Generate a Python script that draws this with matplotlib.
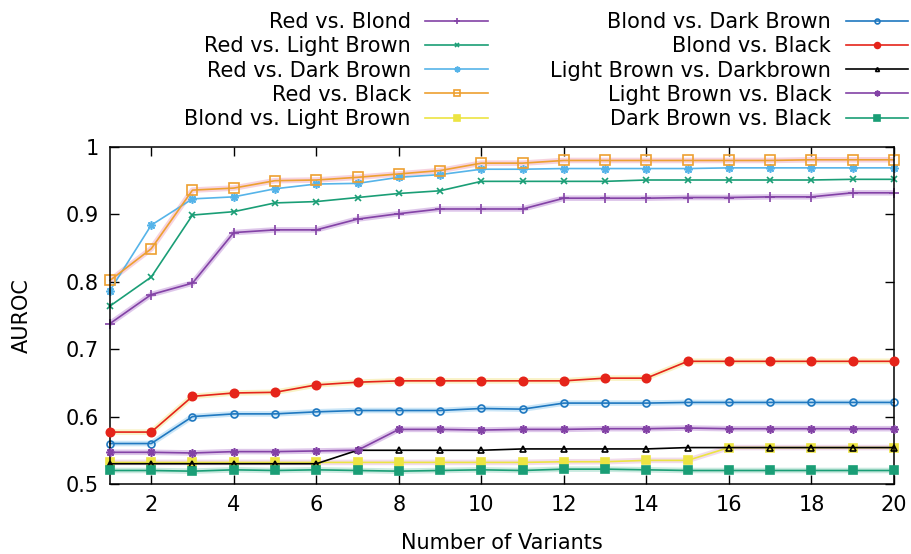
import numpy as np
import matplotlib.pyplot as plt
from matplotlib.ticker import FuncFormatter

variants = np.arange(1, 21)

red_blond = [0.738, 0.781, 0.798, 0.873, 0.877, 0.877, 0.893, 0.901, 0.908, 0.908,
             0.908, 0.924, 0.924, 0.924, 0.925, 0.925, 0.926, 0.926, 0.932, 0.932]
red_lightbrown = [0.764, 0.807, 0.899, 0.904, 0.917, 0.919, 0.925, 0.931, 0.935, 0.949,
                  0.949, 0.949, 0.949, 0.951, 0.951, 0.951, 0.951, 0.951, 0.952, 0.952]
red_darkbrown = [0.787, 0.884, 0.923, 0.926, 0.938, 0.945, 0.946, 0.955, 0.959, 0.967,
                 0.967, 0.968, 0.968, 0.968, 0.968, 0.969, 0.969, 0.969, 0.969, 0.969]
red_black = [0.802, 0.849, 0.936, 0.939, 0.950, 0.951, 0.955, 0.960, 0.965, 0.976,
             0.976, 0.980, 0.980, 0.980, 0.980, 0.980, 0.980, 0.981, 0.981, 0.981]
blond_lightbrown = [0.532, 0.532, 0.532, 0.532, 0.532, 0.532, 0.532, 0.532, 0.532, 0.532,
                    0.532, 0.533, 0.533, 0.535, 0.535, 0.554, 0.554, 0.554, 0.554, 0.554]
blond_darkbrown = [0.560, 0.560, 0.600, 0.604, 0.604, 0.607, 0.609, 0.609, 0.609, 0.612,
                   0.611, 0.620, 0.620, 0.620, 0.621, 0.621, 0.621, 0.621, 0.621, 0.621]
blond_black = [0.577, 0.577, 0.630, 0.635, 0.636, 0.647, 0.651, 0.653, 0.653, 0.653,
               0.653, 0.653, 0.657, 0.657, 0.682, 0.682, 0.682, 0.682, 0.682, 0.682]
lightbrown_darkbrown = [0.530, 0.530, 0.530, 0.530, 0.530, 0.530, 0.550, 0.550, 0.550, 0.550,
                        0.552, 0.552, 0.552, 0.552, 0.554, 0.554, 0.554, 0.554, 0.554, 0.554]
lightbrown_black = [0.547, 0.547, 0.546, 0.548, 0.548, 0.549, 0.550, 0.581, 0.581, 0.580,
                    0.581, 0.581, 0.582, 0.582, 0.583, 0.582, 0.582, 0.582, 0.582, 0.582]
darkbrown_black = [0.520, 0.520, 0.519, 0.521, 0.520, 0.521, 0.520, 0.519, 0.520, 0.521,
                   0.520, 0.522, 0.522, 0.521, 0.520, 0.520, 0.520, 0.520, 0.520, 0.520]

labels = ["Red vs. Blond", "Red vs. Light Brown", "Red vs. Dark Brown", "Red vs. Black",
          "Blond vs. Light Brown", "Blond vs. Dark Brown", "Blond vs. Black",
          "Light Brown vs. Darkbrown", "Light Brown vs. Black", "Dark Brown vs. Black"]
series = [red_blond, red_lightbrown, red_darkbrown, red_black, blond_lightbrown,
          blond_darkbrown, blond_black, lightbrown_darkbrown, lightbrown_black, darkbrown_black]

# gnuplot-ish palette and point types
colors = ['#8342a6', '#1a9e76', '#56b4e9', '#eda030', '#ece442',
          '#1f78c0', '#e5241a', '#000000', '#8342a6', '#1a9e76']
halos = ['#c9a3dd', None, None, '#f2b4c8', '#e9c3e0',
         '#a9d6f2', '#f5eaa0', None, '#c9a3dd', '#a5dccb']
markers = ['+', 'x', (8, 2, 0), 's', 's', 'o', 'o', '^', (8, 2, 0), 's']
filled = [True, True, True, False, True, False, True, False, True, True]
msizes = [7, 5, 6, 7, 6, 5, 6, 4, 6, 6]

plt.rcParams['font.family'] = 'DejaVu Sans'
plt.rcParams['font.size'] = 15

fig = plt.figure(figsize=(9.11, 5.54), dpi=100)
ax = fig.add_axes([0.1207, 0.1264, 0.8606, 0.6083])

for i in range(len(series)):
    if halos[i] is not None:
        ax.plot(variants, series[i], '-', color=halos[i], lw=4.0, alpha=0.6,
                solid_capstyle='round', zorder=1 + i * 0.1)
for i in range(len(series)):
    ax.plot(variants, series[i], '-', color=colors[i], lw=1.2,
            marker=markers[i], ms=msizes[i], mew=1.2,
            mfc=colors[i] if filled[i] else 'none', mec=colors[i],
            label=labels[i], zorder=2 + i * 0.1, clip_on=False)

ax.set_xlim(1, 20)
ax.set_ylim(0.5, 1.0)
ax.set_xticks(np.arange(2, 21, 2))
ax.set_yticks(np.arange(0.5, 1.01, 0.1))
ax.yaxis.set_major_formatter(FuncFormatter(lambda v, p: "%g" % round(v, 2)))
ax.tick_params(direction='in', length=6.5, width=1.0, top=True, right=True, pad=8)
for s in ax.spines.values():
    s.set_linewidth(1.1)

ax.set_xlabel("Number of Variants", labelpad=13)
ax.set_ylabel("AUROC", labelpad=24)

fig.legend(loc='upper right', bbox_to_anchor=(0.997, 0.978), bbox_transform=fig.transFigure,
           ncol=2, markerfirst=False, frameon=False, borderpad=0, borderaxespad=0,
           handlelength=3.0, handletextpad=0.7, columnspacing=3.0, labelspacing=0.2,
           markerscale=0.7)

fig.savefig("out.png", dpi=100)
